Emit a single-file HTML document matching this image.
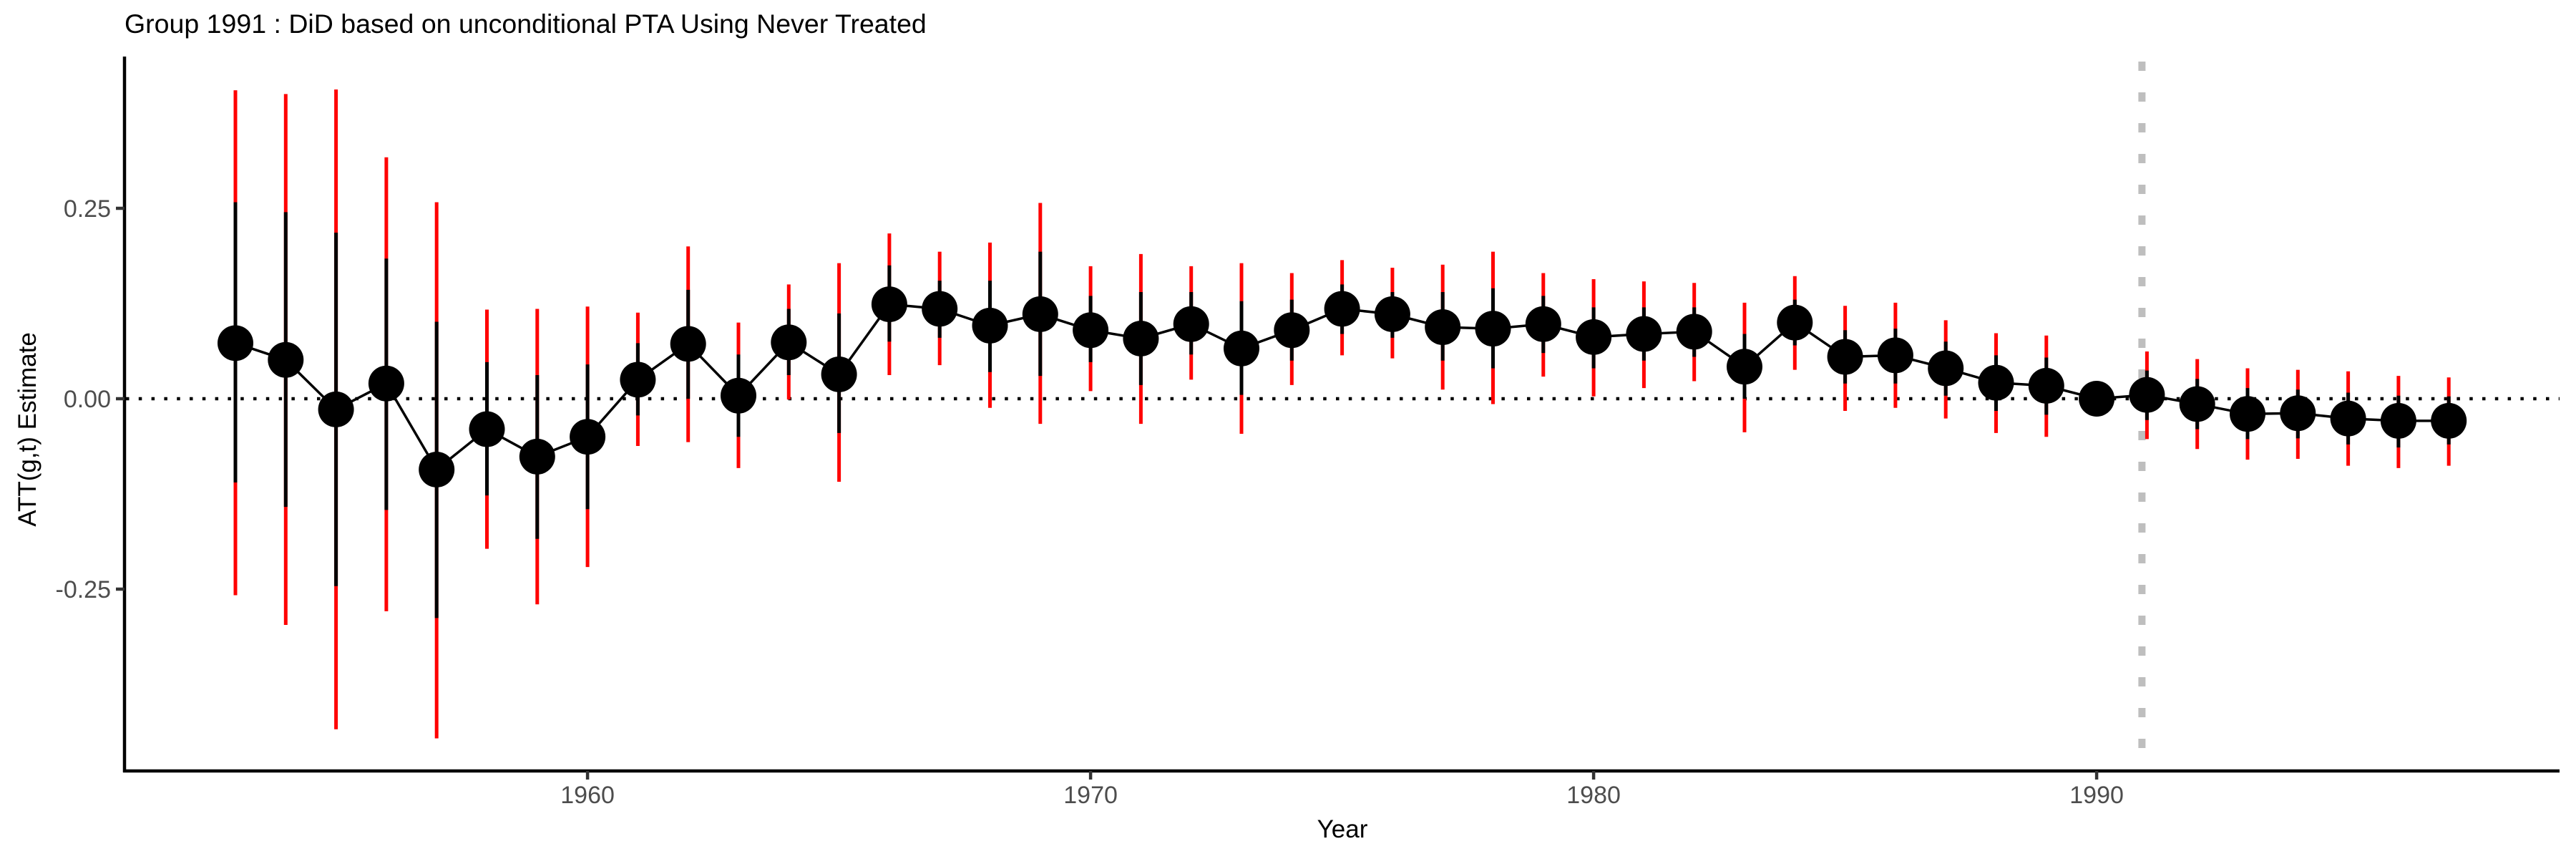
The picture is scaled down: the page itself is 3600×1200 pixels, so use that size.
<!DOCTYPE html>
<html><head><meta charset="utf-8"><style>
html,body{margin:0;padding:0;background:#fff;}
svg{display:block;}
text{font-family:"Liberation Sans",sans-serif;}
</style></head><body>
<svg id="chart" width="3600" height="1200" viewBox="0 0 3600 1200" xmlns="http://www.w3.org/2000/svg">
<rect width="3600" height="1200" fill="#fff"/>
<text x="174" y="46" font-size="37.5" fill="#000">Group 1991 : DiD based on unconditional PTA Using Never Treated</text>
<g id="plot"></g>
<text x="1876" y="1170" font-size="35" text-anchor="middle" fill="#000">Year</text>
<text x="0" y="0" font-size="35" text-anchor="middle" fill="#000" transform="translate(50,600) rotate(-90)">ATT(g,t) Estimate</text>
</svg>
<script>
const years = [1953,1954,1955,1956,1957,1958,1959,1960,1961,1962,1963,1964,1965,1966,1967,1968,1969,1970,1971,1972,1973,1974,1975,1976,1977,1978,1979,1980,1981,1982,1983,1984,1985,1986,1987,1988,1989,1990,1991,1992,1993,1994,1995,1996,1997];
const estimates = [0.073,0.051,-0.014,0.020,-0.093,-0.040,-0.076,-0.050,0.025,0.072,0.004,0.074,0.032,0.124,0.118,0.096,0.111,0.090,0.079,0.098,0.066,0.090,0.118,0.111,0.094,0.092,0.098,0.081,0.085,0.088,0.042,0.100,0.055,0.057,0.040,0.021,0.017,0.000,0.005,-0.007,-0.020,-0.019,-0.026,-0.029,-0.029];
const uniformUpper = [0.405,0.400,0.406,0.317,0.258,0.117,0.118,0.121,0.113,0.200,0.100,0.150,0.178,0.217,0.193,0.205,0.257,0.174,0.190,0.174,0.178,0.165,0.182,0.172,0.176,0.193,0.165,0.157,0.154,0.152,0.126,0.161,0.122,0.126,0.103,0.086,0.083,0.000,0.062,0.052,0.040,0.038,0.036,0.030,0.028];
const uniformLower = [-0.258,-0.297,-0.434,-0.279,-0.446,-0.197,-0.270,-0.221,-0.062,-0.057,-0.091,-0.001,-0.109,0.031,0.044,-0.012,-0.033,0.010,-0.033,0.025,-0.046,0.018,0.057,0.053,0.012,-0.007,0.029,0.003,0.014,0.023,-0.044,0.038,-0.016,-0.012,-0.026,-0.045,-0.050,0.000,-0.053,-0.066,-0.080,-0.079,-0.088,-0.091,-0.088];
const pointUpper = [0.258,0.245,0.218,0.184,0.101,0.048,0.031,0.045,0.073,0.143,0.058,0.118,0.112,0.175,0.155,0.155,0.193,0.135,0.140,0.140,0.128,0.130,0.150,0.140,0.140,0.145,0.135,0.120,0.120,0.120,0.085,0.130,0.090,0.092,0.075,0.057,0.054,0.000,0.037,0.026,0.014,0.012,0.008,0.004,0.003];
const pointLower = [-0.110,-0.142,-0.246,-0.146,-0.288,-0.127,-0.184,-0.145,-0.022,0.000,-0.050,0.031,-0.045,0.075,0.080,0.035,0.030,0.048,0.018,0.058,0.005,0.050,0.085,0.080,0.050,0.040,0.060,0.040,0.050,0.055,0.000,0.070,0.020,0.020,0.004,-0.016,-0.021,0.000,-0.028,-0.040,-0.053,-0.052,-0.060,-0.064,-0.060];
const xTicks = [1960,1970,1980,1990];
const yTicks = [-0.25,0,0.25];
const yTickLabels = ["-0.25","0.00","0.25"];
const treatYear = 1991;

const NS="http://www.w3.org/2000/svg";
const g=document.getElementById('plot');
const xs=y=>329+(y-1953)*70.3;
const ys=v=>557-v*1064;
function mk(tag,attrs){const e=document.createElementNS(NS,tag);for(const k in attrs)e.setAttribute(k,attrs[k]);g.appendChild(e);return e;}

let zl=mk('line',{x1:176,x2:3577,y1:ys(0),y2:ys(0),stroke:'#000','stroke-width':4.5,'stroke-dasharray':'4.5 13.3'});


let tl=mk('line',{x1:xs(treatYear)-7,x2:xs(treatYear)-7,y1:86,y2:1077,stroke:'#bebebe','stroke-width':10,'stroke-dasharray':'13 30'});



years.forEach((yr,i)=>{
  if(uniformUpper[i]===uniformLower[i])return;
  const r=mk('line',{x1:xs(yr),x2:xs(yr),y1:ys(uniformUpper[i]),y2:ys(uniformLower[i]),stroke:'#ff0000','stroke-width':5});
  
  
  const b=mk('line',{x1:xs(yr),x2:xs(yr),y1:ys(pointUpper[i]),y2:ys(pointLower[i]),stroke:'#000','stroke-width':5});
  
  
});
const pl=mk('polyline',{points:years.map((yr,i)=>xs(yr)+','+ys(estimates[i])).join(' '),fill:'none',stroke:'#000','stroke-width':3.5});


years.forEach((yr,i)=>{
  const c=mk('circle',{cx:xs(yr),cy:ys(estimates[i]),r:25,fill:'#000'});
  
  
});
const ya=mk('line',{x1:174,x2:174,y1:79,y2:1079,stroke:'#000','stroke-width':4.5});


const xa=mk('line',{x1:172,x2:3577,y1:1077,y2:1077,stroke:'#000','stroke-width':4.5});


yTicks.forEach((v,i)=>{
  const t=mk('line',{x1:162,x2:174,y1:ys(v),y2:ys(v),stroke:'#333','stroke-width':4.5});
  
  
  const l=mk('text',{x:155,y:ys(v)+12,'font-size':34,'text-anchor':'end',fill:'#4d4d4d'});
  l.textContent=yTickLabels[i];
  
  
});
xTicks.forEach(v=>{
  const t=mk('line',{x1:xs(v),x2:xs(v),y1:1077,y2:1089,stroke:'#333','stroke-width':4.5});
  
  
  const l=mk('text',{x:xs(v),y:1122,'font-size':34,'text-anchor':'middle',fill:'#4d4d4d'});
  l.textContent=String(v);
  
  
});
</script>
</body></html>
